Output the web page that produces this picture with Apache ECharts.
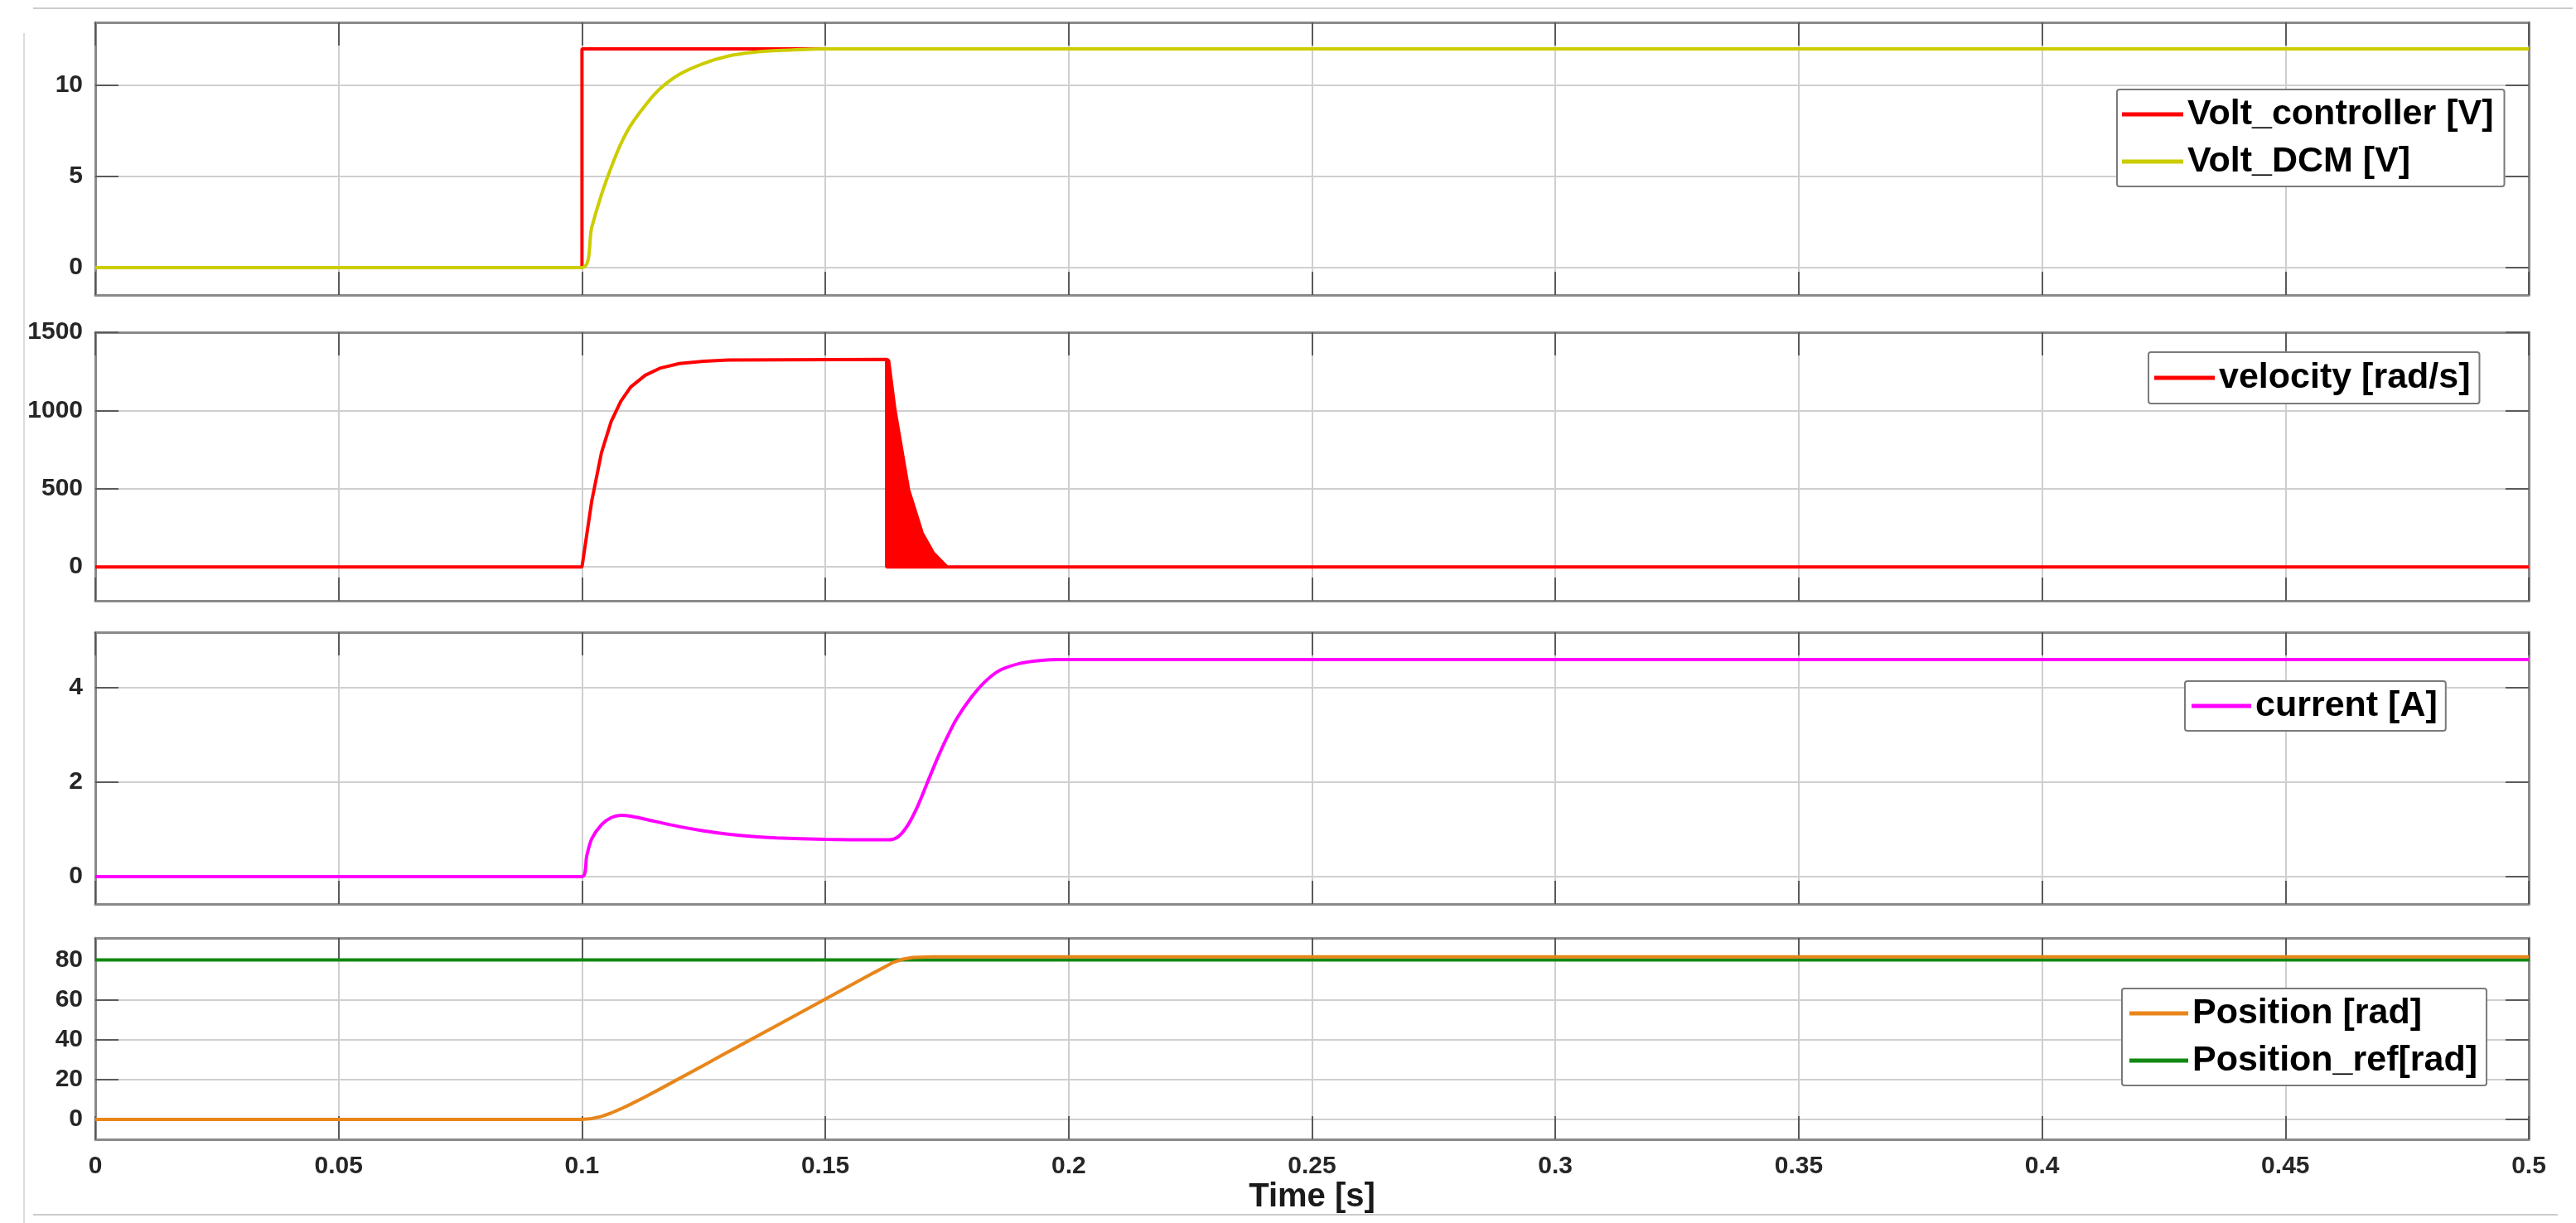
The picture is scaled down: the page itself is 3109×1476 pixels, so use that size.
<!DOCTYPE html>
<html><head><meta charset="utf-8">
<script src="https://cdn.jsdelivr.net/npm/echarts@6/dist/echarts.min.js"></script>
<style>html,body{margin:0;padding:0;background:#fff}#c{width:3109px;height:1476px}</style>
</head><body><div id="c"></div>
<script>
// ---- data ----
const xTickStep = 0.05;
const yTicksVolt = [0, 5, 10];
const yTicksVel = [0, 500, 1000, 1500];
const yTicksCur = [0, 2, 4];
const yTicksPos = [0, 20, 40, 60, 80];

const voltControllerPts = [[0,0],[0.1,0],[0.1,12],[0.5,12]];
const voltDcmPts = [[0,0],[0.1,0],[0.102,2.2],[0.104,4.0],[0.106,5.5],[0.108,6.8],[0.110,7.8],[0.113,8.9],[0.116,9.8],[0.120,10.6],[0.125,11.2],[0.130,11.6],[0.135,11.8],[0.140,11.9],[0.150,12],[0.5,12]];
const velocityPts = [[0,0],[0.1,0],[0.102,420],[0.104,730],[0.106,930],[0.108,1060],[0.110,1150],[0.113,1225],[0.116,1270],[0.120,1300],[0.125,1315],[0.130,1322],[0.1626,1326],[0.1626,0],[0.5,0]];
const velocityDecayEnvelope = [[0.1626,0],[0.1626,1326],[0.1630,1320],[0.1643,1005],[0.1671,495],[0.1699,216],[0.1722,89],[0.1750,0]];
const currentPts = [[0,0],[0.1,0],[0.101,0.45],[0.102,0.8],[0.104,1.1],[0.106,1.25],[0.108,1.3],[0.110,1.28],[0.115,1.17],[0.120,1.06],[0.125,0.97],[0.130,0.9],[0.135,0.85],[0.140,0.82],[0.150,0.79],[0.160,0.78],[0.163,0.78],[0.165,0.85],[0.167,1.1],[0.169,1.5],[0.171,2.0],[0.173,2.5],[0.175,2.95],[0.177,3.35],[0.180,3.8],[0.183,4.15],[0.186,4.38],[0.190,4.52],[0.194,4.58],[0.198,4.6],[0.5,4.6]];
const positionPts = [[0,0],[0.1,0],[0.102,0.4],[0.104,1.5],[0.106,3.2],[0.108,5.3],[0.110,7.6],[0.113,11.3],[0.116,15.2],[0.120,20.5],[0.125,27.1],[0.130,33.8],[0.140,47.0],[0.150,60.3],[0.160,73.6],[0.1626,77.0],[0.164,78.8],[0.166,80.4],[0.168,81.2],[0.172,81.5],[0.5,81.5]];
const positionRefPts = [[0,80],[0.5,80]];

// ---- layout / style ----
const FONT = '"Liberation Sans", Arial, Helvetica, sans-serif';
const AXIS_COL = '#8a8a8a', TICK_COL = '#5a5a5a', GRID_COL = '#cfcfcf';
const panels = [
  {top:27, height:329, min:-1.5, max:13.45, ticks:yTicksVolt},
  {top:401, height:324, min:-216, max:1500, ticks:yTicksVel},
  {top:763, height:328, min:-0.58, max:5.18, ticks:yTicksCur},
  {top:1132, height:243, min:-10, max:91, ticks:yTicksPos}
];
const plain = v => String(v);

const grids = panels.map(p => ({left:115, right:57, top:p.top, height:p.height}));
const xAxes = [], yAxes = [];
panels.forEach((p, i) => {
  const last = i === panels.length - 1;
  const baseX = {
    type:'value', gridIndex:i, min:0, max:0.5, interval:xTickStep,
    axisLine:{show:true, onZero:false, lineStyle:{color:AXIS_COL, width:3}},
    axisTick:{show:true, inside:true, length:28, lineStyle:{color:TICK_COL, width:2}}
  };
  xAxes.push(Object.assign({}, baseX, {
    position:'bottom',
    axisLabel:{show:last, formatter:plain, fontSize:30, fontWeight:'bold', color:'#262626', margin:18, fontFamily:FONT},
    splitLine:{show:true, lineStyle:{color:GRID_COL, width:2}},
    name: last ? 'Time [s]' : '', nameLocation:'middle', nameGap:50,
    nameTextStyle:{fontSize:40, fontWeight:'bold', color:'#1a1a1a', fontFamily:FONT}
  }));
  xAxes.push(Object.assign({}, baseX, {
    position:'top', axisLabel:{show:false}, splitLine:{show:false}
  }));
  const baseY = {
    type:'value', gridIndex:i, min:p.min, max:p.max,
    axisLine:{show:true, onZero:false, lineStyle:{color:AXIS_COL, width:3}},
    axisTick:{show:true, inside:true, length:28, customValues:p.ticks, lineStyle:{color:TICK_COL, width:2}}
  };
  yAxes.push(Object.assign({}, baseY, {
    position:'left',
    axisLabel:{show:true, customValues:p.ticks, formatter:plain, fontSize:30, fontWeight:'bold', color:'#262626', margin:15, fontFamily:FONT},
    splitLine:{show:true, lineStyle:{color:GRID_COL, width:2}}
  }));
  yAxes.push(Object.assign({}, baseY, {
    position:'right', axisLabel:{show:false}, splitLine:{show:false}
  }));
});

function lineSeries(name, panel, data, color, extra) {
  return Object.assign({
    name, type:'line', xAxisIndex:panel*2, yAxisIndex:panel*2, data,
    showSymbol:false, symbol:'none', color, clip:true,
    lineStyle:{width:4, color}, emphasis:{disabled:true}
  }, extra || {});
}

function legendBox(names, left, top, itemWidth, padding) {
  return {
    data:names, orient:'vertical', left, top, icon:'rect', itemWidth, itemHeight:5, itemGap:7,
    padding, borderColor:'#7a7a7a', borderWidth:2, borderRadius:3, backgroundColor:'#fff',
    selectedMode:false,
    textStyle:{fontSize:43, fontWeight:'bold', color:'#000', fontFamily:FONT, lineHeight:50}
  };
}

const option = {
  animation:false,
  backgroundColor:'#fff',
  grid:grids, xAxis:xAxes, yAxis:yAxes,
  legend:[
    legendBox(['Volt_controller [V]','Volt_DCM [V]'], 2555, 108, 74, [5,13,5,6]),
    legendBox(['velocity [rad/s]'], 2593, 425, 73, [6,11,6,7]),
    legendBox(['current [A]'], 2637, 822, 72, [5,10,5,8]),
    legendBox(['Position [rad]','Position_ref[rad]'], 2561, 1193, 71, [5,11,5,9])
  ],
  series:[
    lineSeries('Volt_controller [V]', 0, voltControllerPts, '#ff0000'),
    lineSeries('Volt_DCM [V]', 0, voltDcmPts, '#cccc00', {smooth:0.3}),
    lineSeries('velocity [rad/s]', 1, velocityPts, '#ff0000'),
    lineSeries('velocity [rad/s]', 1, velocityDecayEnvelope, '#ff0000', {areaStyle:{color:'#ff0000', opacity:1}}),
    lineSeries('current [A]', 2, currentPts, '#ff00ff', {smooth:0.3}),
    lineSeries('Position_ref[rad]', 3, positionRefPts, '#118811'),
    lineSeries('Position [rad]', 3, positionPts, '#e8861a')
  ],
  graphic:[
    {type:'line', shape:{x1:40, y1:10, x2:3105, y2:10}, style:{stroke:'#cccccc', lineWidth:2}, silent:true},
    {type:'line', shape:{x1:29, y1:40, x2:29, y2:1476}, style:{stroke:'#dddddd', lineWidth:2}, silent:true},
    {type:'line', shape:{x1:40, y1:1466, x2:3087, y2:1466}, style:{stroke:'#cccccc', lineWidth:2}, silent:true}
  ]
};
const chart = echarts.init(document.getElementById('c'), null, {renderer:'canvas'});
chart.setOption(option);
</script></body></html>
